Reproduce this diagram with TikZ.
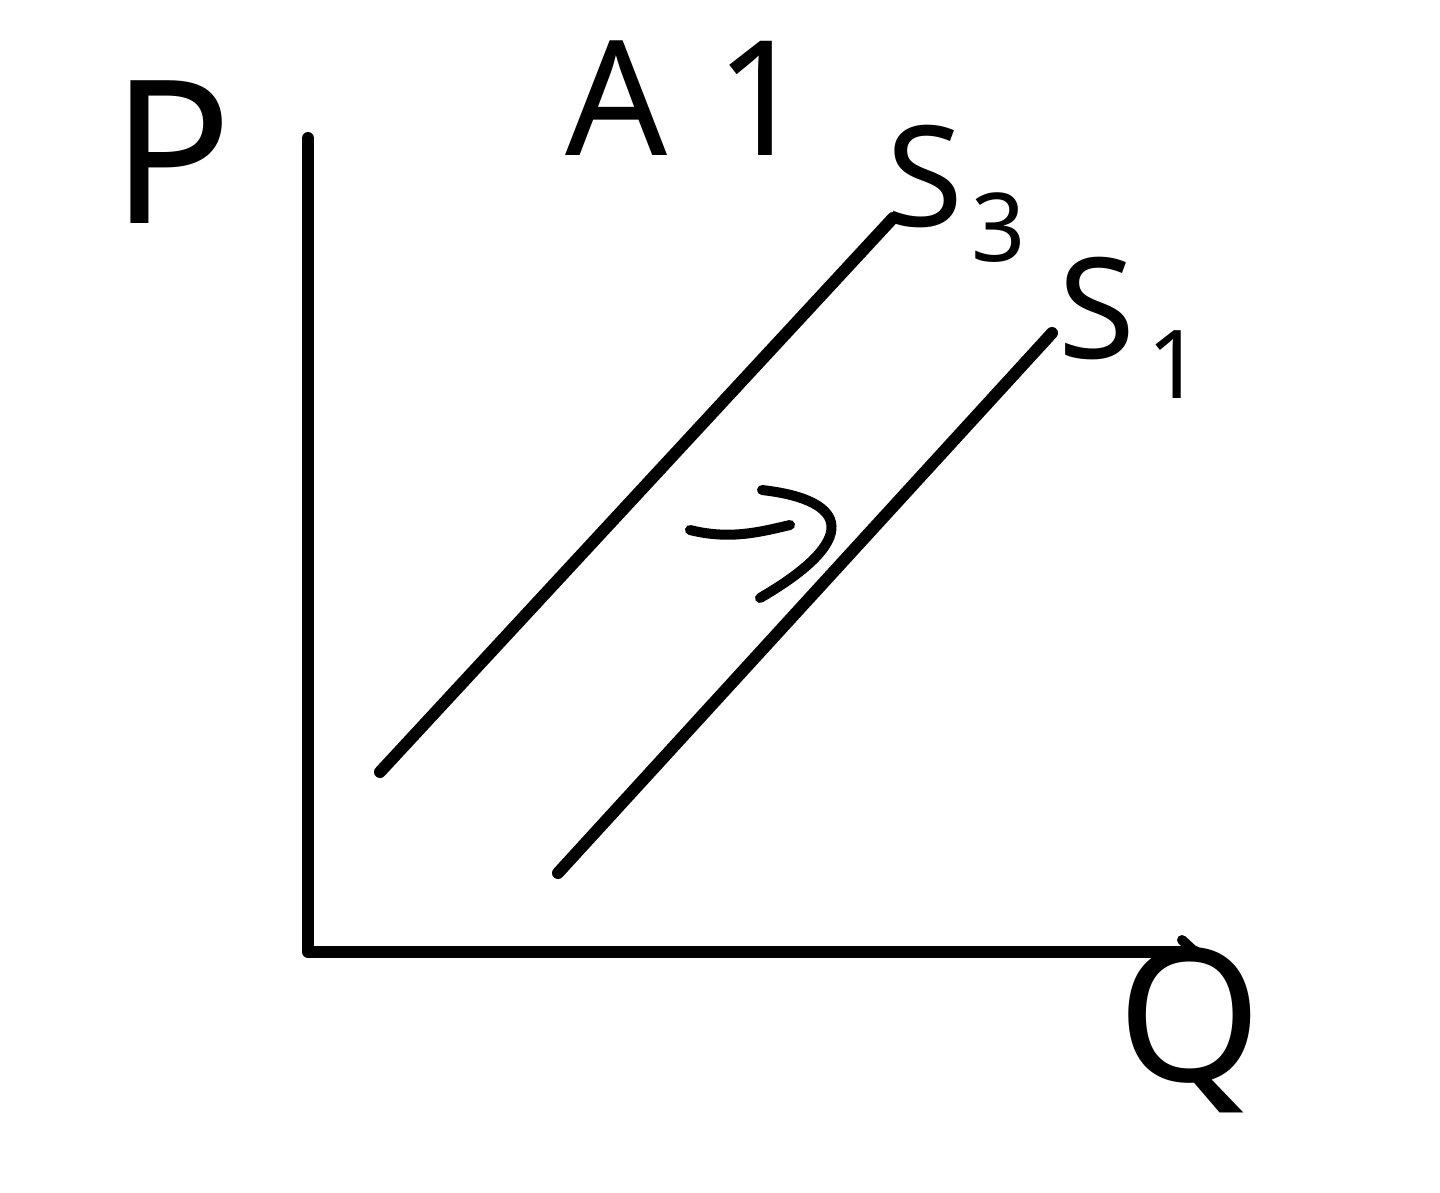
\documentclass[tikz,border=0pt]{standalone}
\usepackage{fontspec}
\setmainfont{Noto Sans}
\begin{document}
\begin{tikzpicture}[x=1pt,y=-1pt,
  stroke/.style={line width=12pt,line cap=round,line join=round,black},
  thin stroke/.style={line width=10pt,line cap=round,line join=round,black},
  hand/.style={inner sep=0pt,anchor=center,font=\fontsize{200}{200}\selectfont}]
\useasboundingbox[fill=white] (0,0) rectangle (1440,1192);
% axes
\coordinate (top) at (308,138);
\coordinate (origin) at (308,952);
\coordinate (xend) at (1195,952);
\draw[stroke] (top) -- (origin) -- (xend);
\draw[thin stroke] (1182,940) -- (xend);
% supply curves
\coordinate (s3a) at (380,772);
\coordinate (s3b) at (893,218);
\coordinate (s1a) at (558,873);
\coordinate (s1b) at (1052,333);
\draw[stroke] (s3a) -- (s3b);
\draw[stroke] (s1a) -- (s1b);
% shift arrow
\coordinate (ar1) at (690,530);
\coordinate (ar2) at (790,525);
\draw[thin stroke] (ar1) .. controls (730,540) and (760,532) .. (ar2);
\draw[thin stroke] (762,490) .. controls (850,500) and (860,540) .. (760,598);
% labels
\node[hand] (P) at (172,152) {P};
\node[hand,font=\fontsize{160}{160}\selectfont] (A1) at (686,98) {A\hspace{48pt}1};
\node[hand,font=\fontsize{140}{140}\selectfont,anchor=base west] (S3) at (886,226) {S\hspace{8pt}\raisebox{-35pt}{\fontsize{95}{95}\selectfont 3}};
\node[hand,font=\fontsize{140}{140}\selectfont,anchor=base west] (S1) at (1058,358) {S\hspace{12pt}\raisebox{-40pt}{\fontsize{95}{95}\selectfont 1}};
\node[hand,font=\fontsize{185}{185}\selectfont] (Q) at (1190,1030) {Q};
\end{tikzpicture}
\end{document}
